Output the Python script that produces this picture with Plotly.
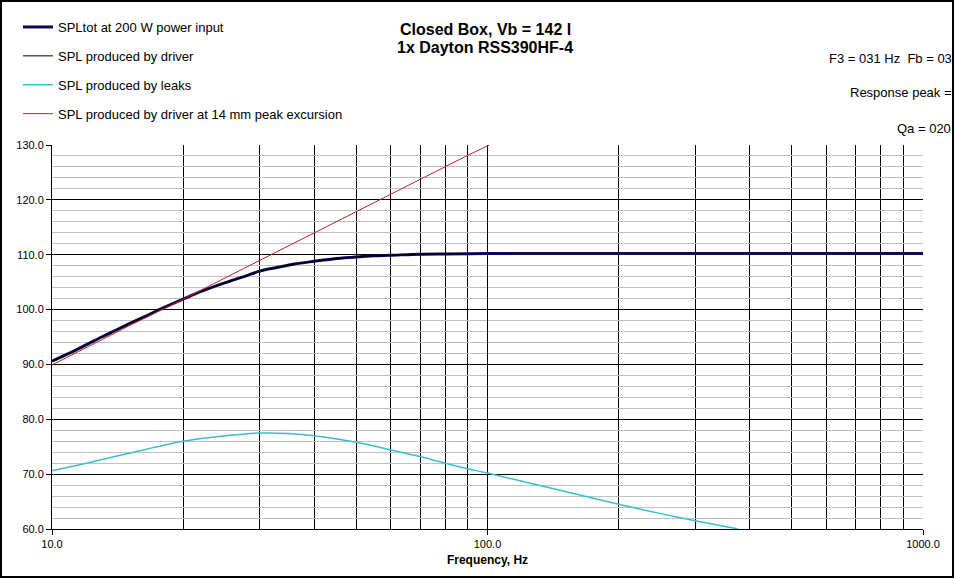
import plotly.graph_objects as go

# ---- data ----
tot_freq = [10, 11, 12, 13, 14, 15, 16, 18, 20, 22, 25, 28, 30, 33, 36, 40, 45, 50, 55, 60,
            70, 80, 100, 120, 150, 200, 300, 500, 700, 1000]
tot_spl = [90.6, 92.1, 93.6, 95.0, 96.2, 97.4, 98.4, 100.3, 101.9, 103.3, 104.9, 106.2, 107.0,
           107.7, 108.3, 108.8, 109.3, 109.6, 109.8, 109.9, 110.1, 110.15, 110.2, 110.2, 110.2,
           110.2, 110.2, 110.2, 110.2, 110.2]

drv_freq = [10, 11, 12, 13, 14, 15, 16, 18, 20, 22, 25, 28, 30, 33, 36, 40, 45, 50, 55, 60,
            70, 80, 100, 113]
drv_spl = [90.6, 92.1, 93.6, 95.0, 96.2, 97.4, 98.4, 100.3, 101.9, 103.3, 104.9, 106.2, 107.0,
           107.7, 108.3, 108.8, 109.3, 109.6, 109.8, 109.9, 110.1, 110.15, 110.2, 110.2]

leak_freq = [10, 12, 15, 20, 25, 30, 35, 40, 50, 60, 70, 80, 90, 100, 120, 150, 200, 250, 300, 376]
leak_spl = [70.6, 72.0, 73.8, 76.0, 77.0, 77.5, 77.4, 77.0, 75.8, 74.4, 73.2, 72.0, 71.0, 70.2,
            68.7, 66.9, 64.5, 62.8, 61.5, 60.0]

xmax_freq = [10, 12, 15, 20, 25, 30, 40, 50, 60, 70, 80, 90, 101]
xmax_spl = [89.9, 93.1, 97.0, 101.9, 105.8, 109.0, 114.0, 117.8, 121.0, 123.7, 126.0, 128.1, 130.0]

x_tick_vals = [10, 100, 1000]
x_tick_text = ["10.0", "100.0", "1000.0"]
x_grid_vals = [20, 30, 40, 50, 60, 70, 80, 90, 200, 300, 400, 500, 600, 700, 800, 900]

title_lines = ["Closed Box, Vb = 142 l", "1x Dayton RSS390HF-4"]
info_lines = ["F3 = 031 Hz\u00a0\u00a0Fb = 03", "Response peak =", "Qa = 020"]

FONT = "Liberation Sans, Arial, sans-serif"
W, H = 955, 579
L, R, T, B = 52, 923, 145, 529
PW, PH = R - L, B - T


def px(x):
    return (x - L) / PW


def py(y):
    return (B - y) / PH


fig = go.Figure()
fig.add_trace(go.Scatter(x=tot_freq, y=tot_spl, mode="lines", name="SPLtot at 200 W power input",
                         line=dict(color="#0A0A55", width=3, shape="spline"), legendgroup="a"))
fig.add_trace(go.Scatter(x=drv_freq, y=drv_spl, mode="lines", name="SPL produced by driver",
                         line=dict(color="#000000", width=1, shape="spline"), legendgroup="b"))
fig.add_trace(go.Scatter(x=leak_freq, y=leak_spl, mode="lines", name="SPL produced by leaks",
                         line=dict(color="#3CBCD6", width=1.5, shape="spline"), legendgroup="c"))
fig.add_trace(go.Scatter(x=xmax_freq, y=xmax_spl, mode="lines",
                         name="SPL produced by driver at 14 mm peak excursion",
                         line=dict(color="#C0202A", width=1), legendgroup="d"))

fig.update_layout(
    width=W, height=H,
    margin=dict(l=L, r=W - R, t=T, b=H - B, pad=0),
    paper_bgcolor="white", plot_bgcolor="white",
    font=dict(family=FONT, size=12, color="#000000"),
    showlegend=True,
    legend=dict(x=px(18), y=py(12), xanchor="left", yanchor="top",
                traceorder="grouped", tracegroupgap=9,
                font=dict(family=FONT, size=13), bgcolor="rgba(0,0,0,0)",
                itemwidth=30),
)

fig.update_xaxes(
    type="log", range=[1, 3],
    tickvals=x_tick_vals, ticktext=x_tick_text,
    tickfont=dict(size=11), ticks="outside", ticklen=5, tickcolor="black",
    showgrid=True, gridcolor="black", gridwidth=1,
    minor=dict(tickvals=x_grid_vals, showgrid=True, gridcolor="black", gridwidth=1, ticks=""),
    showline=True, linecolor="black", linewidth=1, mirror=False,
    zeroline=False,
    title=dict(text="<b>Frequency, Hz</b>", font=dict(size=12), standoff=6),
)
fig.update_yaxes(
    range=[60, 130], dtick=10, tick0=60, tickformat=".1f",
    tickfont=dict(size=11), ticks="outside", ticklen=5, tickcolor="black",
    showgrid=True, gridcolor="black", gridwidth=1,
    minor=dict(dtick=2, showgrid=True, gridcolor="#C0C0C0", gridwidth=1, ticks=""),
    showline=True, linecolor="black", linewidth=1,
    zeroline=False,
)

for yy, t in zip([30, 48], title_lines):
    fig.add_annotation(xref="paper", yref="paper", x=px(485), y=py(yy), text="<b>" + t + "</b>",
                       showarrow=False, xanchor="center", yanchor="middle",
                       font=dict(family=FONT, size=16, color="black"))

info_pos = [(827, 58), (848, 93), (895, 128)]
for (xx, yy), t in zip(info_pos, info_lines):
    fig.add_annotation(xref="paper", yref="paper", x=px(xx), y=py(yy), text=t,
                       showarrow=False, xanchor="left", yanchor="middle",
                       font=dict(family=FONT, size=13, color="black"))

fig.add_shape(type="rect", xref="paper", yref="paper",
              x0=px(1), x1=px(953), y0=py(577), y1=py(1),
              line=dict(color="black", width=2), fillcolor="rgba(0,0,0,0)", layer="above")

fig.write_html("out.html", config={"displayModeBar": False},
               post_script="document.body.style.margin='0px';document.body.style.overflow='hidden';")
